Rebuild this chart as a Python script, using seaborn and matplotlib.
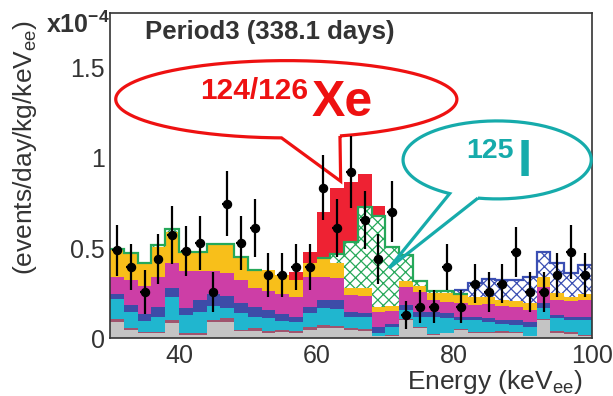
import numpy as np
import pandas as pd
import matplotlib
matplotlib.use("Agg")
import matplotlib.pyplot as plt
from matplotlib.path import Path
from matplotlib.patches import PathPatch
from matplotlib.ticker import MultipleLocator, FuncFormatter
import seaborn as sns

sns.set_style("white")
plt.rcParams['font.family'] = ['Liberation Sans', 'DejaVu Sans']
plt.rcParams['mathtext.default'] = 'regular'
plt.rcParams['hatch.linewidth'] = 0.9

# 2 keV bins from 30 to 100 keVee
bin_edges = list(range(30, 101, 2))
energy = [e + 1.0 for e in bin_edges[:-1]]

# background components, per bin (x1e-4 events/day/kg/keVee), bottom to top
gray = [.090, .046, .028, .028, .087, .017, .020, .092, .092, .040, .040, .031, .033, .030, .046,
        .056, .055, .045, .040, .010, .015, .100, .055, .020, .028, .046, .030, .030, .028, .028,
        .010, .102, .030, .025, .010]
maroon = [.015, .009, .007, .007, .013, .011, .008, .008, .022, .006, .016, .009, .013, .010, .019,
          .018, .015, .010, .010, .005, .005, .005, .005, .005, .002, .004, .005, .005, .012, .007,
          .005, .003, .010, .010, .010]
cyan = [.113, .093, .063, .085, .131, .101, .120, .080, .052, .093, .064, .074, .050, .052, .074,
        .093, .095, .065, .070, .015, .040, .052, .060, .095, .081, .052, .065, .055, .040, .039,
        .050, .061, .070, .065, .080]
blue = [.028, .037, .035, .052, .050, .037, .065, .066, .069, .055, .052, .040, .039, .028, .037,
        .046, .045, .028, .020, .030, .020, .028, .028, .028, .028, .018, .020, .020, .022, .026,
        .027, .028, .020, .020, .020]
magenta = [.096, .139, .154, .170, .135, .204, .157, .124, .126, .130, .109, .109, .111, .108, .163,
           .126, .125, .092, .095, .085, .070, .098, .111, .065, .064, .074, .065, .079, .078, .072,
           .065, .089, .083, .084, .093]
yellow = [.152, .148, .123, .163, .171, .102, .102, .148, .157, .126, .098, .116, .105, .096, .077,
          .101, .080, .040, .045, .030, .030, .032, .028, .037, .047, .046, .045, .041, .033, .032,
          .037, .056, .037, .027, .031]
i125 = [.003, .002, .008, .010, .016, .006, .008, .006, .004, .002, .001, 0, 0, 0, 0,
        .005, .050, .253, .446, .505, .325, .145, .033, .010, .010, .005, 0, 0, 0, 0,
        0, 0, 0, 0, 0]
blue_hatch = [0, 0, 0, 0, 0, 0, 0, 0, 0, 0, 0, 0, 0, 0, 0,
              0, 0, 0, 0, 0, 0, 0, 0, 0, 0, .025, .075, .100, .111, .120,
              .145, .137, .167, .130, .163]
xe124_126 = [0, 0, 0, 0, 0, 0, 0, 0, 0, 0, 0, 0, 0, .044, .062,
             .255, .370, .331, .184, .055, 0, 0, 0, 0, 0, 0, 0, 0, 0, 0,
             0, 0, 0, 0, 0]

# observed data
data = [.487, .395, .257, .440, .570, .483, .528, .257, .744, .528, .612, .350, .350, .395, .395,
        .833, .612, .920, .656, .440, .702, .129, .175, .175, .395, .175, .303, .257, .303, .478,
        .257, .257, .350, .478, .350]
data_err = [.14, .13, .12, .14, .16, .14, .15, .11, .18, .15, .16, .12, .12, .13, .13,
            .18, .16, .20, .16, .14, .17, .08, .09, .09, .13, .09, .11, .11, .11, .14,
            .11, .11, .12, .15, .12]

layers = [
    (gray, "#c4c4c4", None),
    (maroon, "#a0546e", None),
    (cyan, "#20b6cf", None),
    (blue, "#3d4ca8", None),
    (magenta, "#cd3ea6", None),
    (yellow, "#f8bf1a", None),
    (i125, "#26a85a", "xxx"),
    (blue_hatch, "#3b4fb3", "xxx"),
    (xe124_126, "#ee2233", None),
]

fig = plt.figure(figsize=(6.13, 3.96), dpi=100)
ax = fig.add_axes([0.1798, 0.1457, 0.7855, 0.8207])

# THStack style: draw cumulative sums, top layer first (lower layers painted over it)
cum = np.cumsum(np.array([l[0] for l in layers]), axis=0)
for i in reversed(range(len(layers))):
    vals, color, hatch = layers[i]
    if hatch:
        kw = dict(facecolor="white", edgecolor=color, hatch=hatch, linewidth=0)
    else:
        kw = dict(facecolor=color, edgecolor=color, linewidth=0)
    df = pd.DataFrame({"energy": energy, "w": cum[i]})
    sns.histplot(data=df, x="energy", weights="w", bins=bin_edges, element="step", fill=True,
                 alpha=1, ax=ax, zorder=2 - 0.01 * i, **kw)

# outline of the hatched components, only where they contribute
for i, (vals, color, hatch) in enumerate(layers):
    if hatch:
        top = np.where(np.array(vals) > 0, cum[i], np.nan)
        ax.stairs(top, bin_edges, color=color, linewidth=1.6, baseline=None, zorder=2.5)

ax.errorbar(energy, data, yerr=data_err, xerr=0.7, fmt="o", color="black", ms=5.8,
            elinewidth=1.6, capsize=0, zorder=6)


def bubble(cx, cy, a, b, base_left, base_right, tip, color):
    th_r = 360 - np.degrees(np.arccos((base_right - cx) / a))
    th_l = 360 - np.degrees(np.arccos((base_left - cx) / a))
    t = np.radians(np.linspace(th_r, th_l + 360, 300))
    xs = cx + a * np.cos(t)
    ys = cy + b * np.sin(t)
    verts = list(zip(xs, ys)) + [tip, (xs[0], ys[0])]
    ax.add_patch(PathPatch(Path(verts), fill=False, edgecolor=color, lw=2.3,
                           clip_on=False, zorder=5, joinstyle="miter"))


red = "#ee1111"
teal = "#16abab"
bubble(55.6, 1.324, 24.8, 0.214, 54.9, 63.4, (63.5, 0.87), red)
bubble(86.25, 0.988, 13.68, 0.216, 79.35, 83.46, (70.54, 0.389), teal)

ax.text(43.0, 1.324, "124/126", color=red, fontsize=21.5, fontweight="bold", va="baseline", zorder=7)
ax.text(59.3, 1.229, "Xe", color=red, fontsize=36, fontweight="bold", va="baseline", zorder=7)
ax.text(81.8, 1.0, "125", color=teal, fontsize=20.5, fontweight="bold", va="baseline", zorder=7)
ax.text(89.2, 0.898, "I", color=teal, fontsize=37, fontweight="bold", va="baseline", zorder=7)

ax.text(35.0, 1.657, "Period3 (338.1 days)", color="#333333", fontsize=18.5,
        fontweight="bold", va="baseline", zorder=7)
ax.text(0.0, 0.939, "x10$^{-4}$", transform=ax.transAxes, ha="right", va="baseline",
        fontsize=18, fontweight="bold", color="#333333")

ax.set_xlim(30, 100)
ax.set_ylim(0, 1.8)
ax.xaxis.set_major_locator(MultipleLocator(20))
ax.xaxis.set_minor_locator(MultipleLocator(5))
ax.yaxis.set_major_locator(MultipleLocator(0.5))
ax.yaxis.set_minor_locator(MultipleLocator(0.1))
ax.yaxis.set_major_formatter(FuncFormatter(lambda v, p: f"{v:g}"))
ax.tick_params(which="both", direction="in", top=False, right=False, color="#333333",
               labelcolor="#333333", labelsize=18, width=1.0)
ax.tick_params(which="major", length=7, pad=4)
ax.tick_params(which="minor", length=4)
for s in ax.spines.values():
    s.set_color("#333333")
    s.set_linewidth(1.2)

ax.set_xlabel("Energy (keV$_{ee}$)", fontsize=19, color="#333333", ha="right")
ax.xaxis.set_label_coords(0.982, -0.09)
ax.set_ylabel("(events/day/kg/keV$_{ee}$)", fontsize=19, color="#333333")
ax.yaxis.set_label_coords(-0.148, 0.587)

fig.savefig("out.png", dpi=100)
